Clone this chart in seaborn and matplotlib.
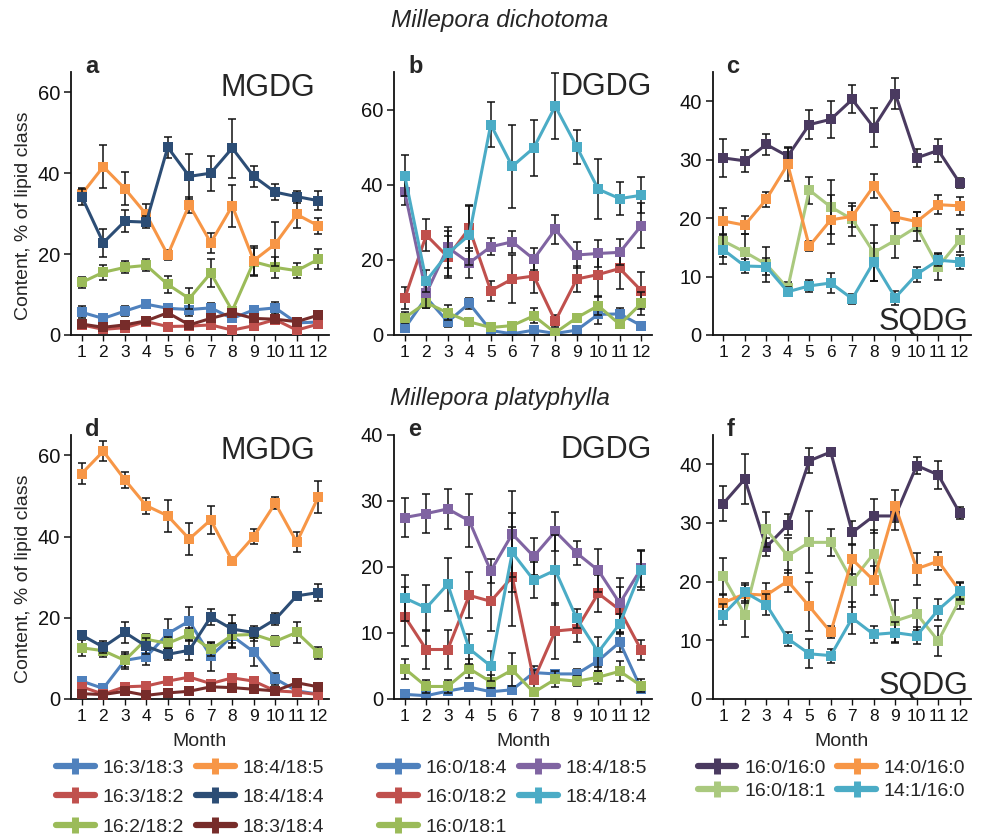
import matplotlib
matplotlib.use("Agg")
import matplotlib.pyplot as plt
import seaborn as sns
import pandas as pd
from matplotlib.lines import Line2D

MONTHS = list(range(1, 13))
MONTH_LABELS = [str(m) for m in MONTHS]

# ---- panel a: Millepora dichotoma, MGDG ----
A_16_3_18_3 = [5.6, 4.1, 5.9, 7.6, 6.6, 6.3, 6.7, 4.1, 6.2, 6.7, 3.0, 3.2]
A_16_3_18_3_E = [1.5, 1.2, 1.2, 1.0, 1.0, 1.5, 1.2, 1.0, 1.0, 1.5, 0.8, 0.8]
A_16_3_18_2 = [2.5, 1.4, 1.8, 3.3, 2.1, 2.2, 2.5, 1.2, 2.3, 3.8, 1.2, 2.7]
A_16_3_18_2_E = [0.8] * 12
A_16_2_18_2 = [13.0, 15.5, 16.7, 17.2, 12.5, 9.0, 15.3, 6.0, 18.1, 16.7, 15.9, 18.7]
A_16_2_18_2_E = [1.3, 1.8, 1.5, 1.5, 2.2, 2.5, 3.5, 1.0, 3.5, 2.5, 1.8, 2.5]
A_18_4_18_5 = [34.8, 41.6, 36.2, 29.8, 19.8, 32.2, 22.8, 31.9, 18.4, 22.5, 29.8, 27.0]
A_18_4_18_5_E = [1.5, 5.3, 4.0, 2.5, 1.2, 2.0, 2.5, 5.2, 3.5, 5.5, 3.3, 2.0]
A_18_4_18_4 = [34.2, 22.8, 28.1, 27.9, 46.4, 39.2, 40.0, 46.2, 39.2, 35.3, 34.2, 33.2]
A_18_4_18_4_E = [2.0, 3.5, 2.7, 1.5, 2.6, 5.5, 4.3, 7.3, 2.5, 2.0, 1.5, 2.3]
A_18_3_18_4 = [2.7, 1.9, 2.5, 3.5, 5.5, 2.5, 4.1, 5.5, 4.1, 3.9, 3.3, 4.9]
A_18_3_18_4_E = [0.8, 0.8, 0.8, 0.8, 1.0, 1.0, 1.0, 1.0, 1.0, 0.8, 0.8, 0.8]

# ---- panel b: Millepora dichotoma, DGDG ----
B_16_0_18_4 = [1.8, 10.0, 3.5, 8.4, 1.2, 0.3, 1.3, 0.4, 1.3, 5.5, 5.6, 2.5]
B_16_0_18_4_E = [1.0, 1.5, 1.5, 1.5, 0.5, 0.3, 1.0, 0.3, 0.8, 2.5, 1.5, 0.8]
B_16_0_18_2 = [9.8, 26.6, 20.8, 28.4, 11.8, 14.9, 15.7, 3.7, 14.9, 16.1, 17.7, 11.8]
B_16_0_18_2_E = [3.0, 4.2, 5.5, 6.0, 2.7, 6.5, 4.5, 1.5, 3.5, 6.0, 5.5, 5.0]
B_16_0_18_1 = [4.6, 8.6, 5.9, 3.5, 2.0, 2.5, 5.1, 0.6, 4.6, 7.8, 2.8, 8.4]
B_16_0_18_1_E = [1.5, 1.5, 2.0, 1.0, 0.8, 1.0, 2.0, 0.5, 1.0, 2.5, 1.0, 3.0]
B_18_4_18_5 = [38.1, 11.1, 23.3, 19.2, 23.5, 24.8, 20.2, 28.1, 21.3, 21.7, 22.0, 29.1]
B_18_4_18_5_E = [3.5, 4.0, 5.5, 4.0, 2.3, 3.0, 3.0, 3.8, 3.5, 3.5, 3.5, 6.0]
B_18_4_18_4 = [42.4, 14.4, 21.7, 26.6, 56.0, 44.9, 49.8, 60.9, 50.1, 38.8, 36.3, 37.2]
B_18_4_18_4_E = [5.5, 3.0, 6.0, 8.0, 6.0, 11.0, 7.5, 8.8, 4.5, 8.0, 4.3, 4.8]

# ---- panel c: Millepora dichotoma, SQDG ----
C_16_0_16_0 = [30.3, 29.8, 32.6, 30.6, 36.0, 36.9, 40.3, 35.5, 41.3, 30.3, 31.6, 26.0]
C_16_0_16_0_E = [3.3, 1.9, 1.8, 1.6, 2.5, 3.2, 2.4, 3.3, 2.7, 1.6, 2.0, 0.8]
C_16_0_18_1 = [16.1, 14.2, 12.1, 8.0, 24.8, 21.9, 19.8, 14.1, 16.2, 18.5, 11.7, 16.2]
C_16_0_18_1_E = [2.8, 3.0, 3.0, 1.0, 2.3, 4.6, 2.8, 4.8, 3.0, 2.5, 2.3, 2.0]
C_14_0_16_0 = [19.5, 18.8, 23.2, 29.2, 15.2, 19.7, 20.3, 25.5, 20.2, 19.4, 22.3, 22.1]
C_14_0_16_0_E = [2.2, 1.5, 1.3, 2.8, 0.8, 4.2, 1.8, 2.0, 0.8, 1.6, 1.6, 1.5]
C_14_1_16_0 = [14.6, 11.8, 11.7, 7.4, 8.4, 8.9, 6.2, 12.5, 6.4, 10.4, 12.8, 12.5]
C_14_1_16_0_E = [2.5, 1.2, 1.5, 0.8, 1.0, 1.7, 0.9, 3.3, 1.2, 1.3, 1.0, 1.2]

# ---- panel d: Millepora platyphylla, MGDG ----
D_16_3_18_3 = [4.4, 2.6, 9.5, 10.4, 16.1, 19.2, 10.5, 15.5, 11.6, 5.0, 2.0, 1.2]
D_16_3_18_3_E = [1.0, 0.8, 2.0, 2.0, 3.5, 3.5, 3.5, 3.0, 3.5, 1.5, 1.0, 0.5]
D_16_3_18_2 = [3.0, 1.2, 3.0, 3.2, 4.4, 5.4, 3.8, 5.2, 4.4, 2.0, 1.7, 1.1]
D_16_3_18_2_E = [0.8] * 12
D_16_2_18_2 = [12.6, 11.9, 9.5, 14.7, 13.7, 15.9, 12.2, 15.7, 15.9, 14.2, 16.4, 11.4]
D_16_2_18_2_E = [2.0, 1.5, 1.5, 1.2, 1.5, 1.5, 1.5, 3.0, 1.5, 1.2, 2.5, 1.5]
D_18_4_18_5 = [55.5, 61.0, 54.0, 47.6, 45.1, 39.4, 44.1, 34.0, 40.0, 48.2, 38.6, 49.7]
D_18_4_18_5_E = [2.5, 2.5, 2.0, 2.0, 4.0, 4.0, 3.5, 1.0, 1.8, 1.5, 2.5, 4.0]
D_18_4_18_4 = [15.7, 12.8, 16.4, 13.0, 11.0, 12.0, 20.2, 17.2, 16.4, 19.6, 25.4, 26.2]
D_18_4_18_4_E = [1.0, 1.5, 2.5, 2.0, 1.5, 2.5, 2.0, 3.5, 1.5, 1.5, 0.8, 2.0]
D_18_3_18_4 = [1.3, 1.1, 1.9, 0.9, 1.5, 1.9, 3.0, 2.8, 2.4, 2.0, 4.0, 3.0]
D_18_3_18_4_E = [0.8] * 12

# ---- panel e: Millepora platyphylla, DGDG ----
E_16_0_18_4 = [0.7, 0.5, 1.2, 1.8, 1.1, 1.4, 4.0, 3.8, 3.8, 5.8, 8.6, 1.5]
E_16_0_18_4_E = [0.5, 0.5, 0.5, 0.5, 0.5, 0.5, 1.0, 0.5, 0.8, 1.5, 1.5, 0.5]
E_16_0_18_2 = [12.5, 7.5, 7.5, 15.7, 14.8, 18.5, 2.9, 10.3, 10.6, 16.0, 13.5, 7.4]
E_16_0_18_2_E = [4.5, 3.0, 3.0, 3.5, 4.5, 7.5, 1.5, 4.2, 2.0, 2.8, 3.5, 1.5]
E_16_0_18_1 = [4.6, 1.9, 1.9, 4.6, 2.6, 4.4, 1.0, 3.0, 2.7, 3.3, 4.2, 2.0]
E_16_0_18_1_E = [1.5, 1.0, 1.0, 1.4, 1.0, 2.5, 0.5, 1.2, 0.8, 1.0, 1.5, 1.0]
E_18_4_18_5 = [27.5, 28.1, 28.8, 27.0, 19.4, 25.0, 21.6, 25.4, 22.1, 19.5, 14.5, 19.8]
E_18_4_18_5_E = [3.0, 3.0, 3.0, 4.0, 1.8, 6.5, 2.8, 3.0, 1.8, 3.3, 3.8, 2.8]
E_18_4_18_4 = [15.3, 13.8, 17.4, 7.6, 5.0, 22.2, 18.0, 19.5, 12.2, 7.1, 11.4, 19.5]
E_18_4_18_4_E = [3.5, 3.5, 4.0, 2.3, 2.3, 6.0, 2.7, 5.3, 1.5, 2.3, 1.5, 3.0]

# ---- panel f: Millepora platyphylla, SQDG ----
F_16_0_16_0 = [33.3, 37.5, 25.9, 29.7, 40.6, 42.1, 28.4, 31.2, 31.2, 39.8, 38.2, 31.7]
F_16_0_16_0_E = [3.0, 4.2, 1.5, 1.8, 2.1, 0.5, 2.0, 2.9, 2.4, 1.4, 2.4, 1.0]
F_16_0_18_1 = [20.9, 14.4, 28.9, 24.4, 26.7, 26.7, 20.1, 24.8, 13.3, 14.5, 9.9, 16.9]
F_16_0_18_1_E = [3.2, 3.8, 3.0, 3.0, 5.3, 2.3, 4.5, 4.0, 3.5, 2.8, 2.5, 1.5]
F_14_0_16_0 = [16.4, 17.9, 17.7, 20.1, 15.8, 11.4, 23.8, 20.2, 32.9, 22.2, 23.5, 18.4]
F_14_0_16_0_E = [1.5, 1.5, 2.0, 1.9, 4.2, 1.0, 2.5, 2.5, 2.8, 2.7, 1.5, 1.3]
F_14_1_16_0 = [14.4, 18.2, 16.1, 10.3, 7.7, 7.4, 13.8, 11.0, 11.3, 10.8, 15.2, 18.4]
F_14_1_16_0_E = [1.8, 1.5, 1.8, 1.2, 2.5, 1.2, 2.7, 1.5, 1.8, 1.5, 1.8, 1.5]

TITLE_TOP = "Millepora dichotoma"
TITLE_BOTTOM = "Millepora platyphylla"
YLABEL = "Content, % of lipid class"
XLABEL = "Month"

C_LBLUE = "#4f81bd"
C_RED = "#c0504d"
C_GREEN = "#9bbb59"
C_ORANGE = "#f79646"
C_NAVY = "#2c4d75"
C_DRED = "#772c2a"
C_PURPLE = "#8064a2"
C_CYAN = "#4bacc6"
C_DPURPLE = "#4a3a60"
C_LGREEN = "#aac97e"

sns.set_style("ticks")
plt.rcParams["font.family"] = ["Liberation Sans", "DejaVu Sans"]

W, H = 989, 840
fig = plt.figure(figsize=(W / 100, H / 100), dpi=100)


def px_axes(left, top, width, height):
    return fig.add_axes([left / W, 1 - (top + height) / H, width / W, height / H])


def ftext(x, y, s, **kw):
    fig.text(x / W, 1 - y / H, s, **kw)


MG = [("16:3/18:3", C_LBLUE), ("16:3/18:2", C_RED), ("16:2/18:2", C_GREEN),
      ("18:4/18:5", C_ORANGE), ("18:4/18:4", C_NAVY), ("18:3/18:4", C_DRED)]
DG = [("16:0/18:4", C_LBLUE), ("16:0/18:2", C_RED), ("16:0/18:1", C_GREEN),
      ("18:4/18:5", C_PURPLE), ("18:4/18:4", C_CYAN)]
SQ = [("16:0/16:0", C_DPURPLE), ("16:0/18:1", C_LGREEN),
      ("14:0/16:0", C_ORANGE), ("14:1/16:0", C_CYAN)]

panels = [
    dict(left=71, top=72, h=263, ymax=65, yt=[0, 20, 40, 60], letter="a", cls="MGDG",
         spec=MG, data=[(A_16_3_18_3, A_16_3_18_3_E), (A_16_3_18_2, A_16_3_18_2_E),
                        (A_16_2_18_2, A_16_2_18_2_E), (A_18_4_18_5, A_18_4_18_5_E),
                        (A_18_4_18_4, A_18_4_18_4_E), (A_18_3_18_4, A_18_3_18_4_E)]),
    dict(left=394, top=72, h=263, ymax=70, yt=[0, 20, 40, 60], letter="b", cls="DGDG",
         spec=DG, data=[(B_16_0_18_4, B_16_0_18_4_E), (B_16_0_18_2, B_16_0_18_2_E),
                        (B_16_0_18_1, B_16_0_18_1_E), (B_18_4_18_5, B_18_4_18_5_E),
                        (B_18_4_18_4, B_18_4_18_4_E)]),
    dict(left=712.5, top=72, h=263, ymax=45, yt=[0, 10, 20, 30, 40], letter="c", cls="SQDG",
         spec=SQ, data=[(C_16_0_16_0, C_16_0_16_0_E), (C_16_0_18_1, C_16_0_18_1_E),
                        (C_14_0_16_0, C_14_0_16_0_E), (C_14_1_16_0, C_14_1_16_0_E)]),
    dict(left=71, top=435, h=264, ymax=65, yt=[0, 20, 40, 60], letter="d", cls="MGDG",
         spec=MG, data=[(D_16_3_18_3, D_16_3_18_3_E), (D_16_3_18_2, D_16_3_18_2_E),
                        (D_16_2_18_2, D_16_2_18_2_E), (D_18_4_18_5, D_18_4_18_5_E),
                        (D_18_4_18_4, D_18_4_18_4_E), (D_18_3_18_4, D_18_3_18_4_E)]),
    dict(left=394, top=435, h=264, ymax=40, yt=[0, 10, 20, 30, 40], letter="e", cls="DGDG",
         spec=DG, data=[(E_16_0_18_4, E_16_0_18_4_E), (E_16_0_18_2, E_16_0_18_2_E),
                        (E_16_0_18_1, E_16_0_18_1_E), (E_18_4_18_5, E_18_4_18_5_E),
                        (E_18_4_18_4, E_18_4_18_4_E)]),
    dict(left=712.5, top=435, h=264, ymax=45, yt=[0, 10, 20, 30, 40], letter="f", cls="SQDG",
         spec=SQ, data=[(F_16_0_16_0, F_16_0_16_0_E), (F_16_0_18_1, F_16_0_18_1_E),
                        (F_14_0_16_0, F_14_0_16_0_E), (F_14_1_16_0, F_14_1_16_0_E)]),
]

AXW = 258
for i, p in enumerate(panels):
    ax = px_axes(p["left"], p["top"], AXW, p["h"])
    z = 2
    for (name, color), (vals, errs) in zip(p["spec"], p["data"]):
        df = pd.DataFrame({"Month": MONTHS, "Content": vals})
        ax.errorbar(MONTHS, vals, yerr=errs, fmt="none", ecolor="#111111",
                    elinewidth=1.1, capsize=3.0, capthick=1.1, zorder=z)
        sns.lineplot(data=df, x="Month", y="Content", ax=ax, color=color,
                     marker="s", markersize=7.5, markeredgewidth=0,
                     linewidth=2.2, legend=False, zorder=z + 0.5)
        z += 1
    ax.set_xlim(0.5, 12.5)
    ax.set_ylim(0, p["ymax"])
    ax.set_yticks(p["yt"])
    ax.set_yticklabels([str(t) for t in p["yt"]], fontsize=14.5)
    ax.set_xticks(MONTHS)
    ax.set_xticklabels(MONTH_LABELS, fontsize=12.5)
    ax.set_xlabel("")
    ax.set_ylabel("")
    ax.tick_params(axis="y", length=5, width=1.1, pad=3, colors="#111111")
    ax.tick_params(axis="x", length=4, width=1.0, pad=3, colors="#111111")
    for s in ["top", "right"]:
        ax.spines[s].set_visible(False)
    for s in ["left", "bottom"]:
        ax.spines[s].set_linewidth(1.3)
        ax.spines[s].set_color("#111111")

    left, top, h = p["left"], p["top"], p["h"]
    ftext(left + 14, top + 1, p["letter"], fontsize=17, fontweight="bold",
          ha="left", va="baseline")
    if p["cls"] == "SQDG":
        ftext(left + AXW - 2, top + h - 5, p["cls"], fontsize=22, ha="right", va="baseline")
    elif p["cls"] == "MGDG":
        ftext(left + AXW - 14, top + 24, p["cls"], fontsize=22, ha="right", va="baseline")
    else:
        ftext(left + AXW, top + 23, p["cls"], fontsize=22, ha="right", va="baseline")

    if p["letter"] in ("a", "d"):
        ftext(23.5, top + h * 0.545, YLABEL, fontsize=14, rotation=90,
              ha="center", va="center")

    if p["top"] > 200:
        ftext(left + AXW / 2, 742, XLABEL, fontsize=14, ha="center", va="center")
        handles = [Line2D([], [], color=c, lw=4.5, marker="|", markersize=11,
                          markeredgewidth=5) for _, c in p["spec"]]
        labels = [n for n, _ in p["spec"]]
        ls = 0.3 if p["cls"] == "SQDG" else 0.62
        fig.legend(handles, labels, loc="upper left",
                   bbox_to_anchor=((left - 15) / W, 1 - 759 / H),
                   ncol=2, frameon=False, fontsize=14, handlelength=2.0,
                   handletextpad=0.4, columnspacing=0.6, labelspacing=ls,
                   borderpad=0, borderaxespad=0)

ftext(500, 21, TITLE_TOP, fontsize=17.5, style="italic", ha="center", va="center")
ftext(500, 398, TITLE_BOTTOM, fontsize=17.5, style="italic", ha="center", va="center")

fig.savefig("out.png", dpi=100)
